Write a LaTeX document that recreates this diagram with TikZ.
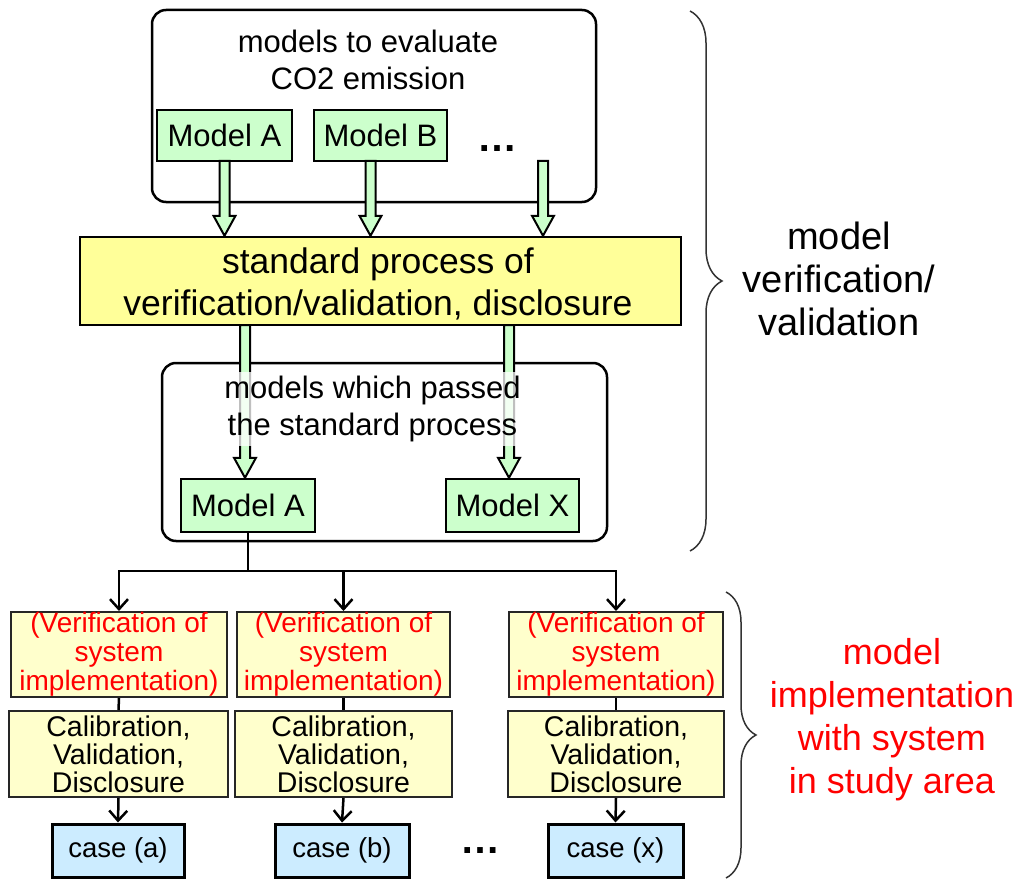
\documentclass[tikz,border=0pt]{standalone}
\usepackage{fontspec}
\setmainfont{Liberation Sans}
\usetikzlibrary{arrows.meta,calc,decorations.pathreplacing}
\definecolor{mgreen}{HTML}{CCFFCC}
\definecolor{myel}{HTML}{FFFF99}
\definecolor{lyel}{HTML}{FFFFCC}
\definecolor{lblue}{HTML}{CCECFF}
\definecolor{mred}{HTML}{FF0000}
\newcommand\fs[2]{\fontsize{#1}{#2}\selectfont}
\newcommand\hollowarrow[2]{%
  \draw[harrow] let \p1=(#1), \p2=(#2) in
   (\x1-5pt,\y1) -- (\x1-5pt,\y2+20pt) -- (\x1-11pt,\y2+20pt) -- (\x1,\y2)
   -- (\x1+11pt,\y2+20pt) -- (\x1+5pt,\y2+20pt) -- (\x1+5pt,\y1) -- cycle;}
\begin{document}
\begin{tikzpicture}[x=1pt,y=-1pt,
  roundbox/.style={draw,line width=2.5pt,rounded corners=14pt,inner sep=0pt},
  modelbox/.style={draw,line width=2.5pt,fill=mgreen,inner sep=0pt,font=\fs{31}{37}},
  procbox/.style={draw,line width=2.5pt,fill=myel,inner sep=0pt,align=center,font=\fs{35.5}{42}},
  verbox/.style={draw=black!85,line width=2pt,fill=lyel,inner sep=0pt,align=center,text=mred,font=\fs{28}{29}},
  calbox/.style={draw=black!85,line width=2pt,fill=lyel,inner sep=0pt,align=center,font=\fs{28.5}{28}},
  casebox/.style={draw,line width=3pt,fill=lblue,inner sep=0pt,font=\fs{27.5}{30}},
  harrow/.style={draw,fill=mgreen,line width=2pt,line join=miter},
  conn/.style={line width=2.5pt},
  arr/.style={conn,-{Straight Barb[length=10pt,width=18pt,line width=2.5pt]}},
  bracestyle/.style={draw=black!80,line width=1.5pt,decorate},
  boxtext/.style={align=center,inner sep=0pt,font=\fs{31}{37}},
  dots/.style={inner sep=0pt,anchor=base,font=\bfseries\fs{40}{40}}
]
\useasboundingbox (0,0) rectangle (1020,880);
% top group
\node[roundbox,minimum width=444pt,minimum height=192pt] (top) at (374,106) {};
\node[boxtext] (toptext) at (368,60) {models to evaluate\\CO2 emission};
\node[modelbox,minimum width=135pt,minimum height=51pt] (mA) at (224.5,135.5) {Model A};
\node[modelbox,minimum width=133pt,minimum height=51pt] (mB) at (380.5,135.5) {Model B};
\node[dots] (dtop) at (497,152) {…};
\node[procbox,minimum width=601pt,minimum height=88pt] (yel) at (380.5,281) {};
\node[align=center,inner sep=0pt,font=\fs{35.5}{42}] (yeltext) at (378,284) {standard process of\\verification/validation, disclosure};
\coordinate (u1) at (224.5,161);
\coordinate (u2) at (370.5,161);
\coordinate (u3) at (543,161);
\hollowarrow{u1}{u1 |- yel.north}
\hollowarrow{u2}{u2 |- yel.north}
\hollowarrow{u3}{u3 |- yel.north}
% passed group
\node[roundbox,minimum width=445pt,minimum height=178pt] (pass) at (384.5,452) {};
\node[modelbox,minimum width=134pt,minimum height=53pt] (mA2) at (248,505.5) {Model A};
\node[modelbox,minimum width=133pt,minimum height=53pt] (mX) at (512.5,505.5) {Model X};
\coordinate (l1) at (245,325);
\coordinate (l2) at (509,325);
\hollowarrow{l1}{l1 |- mA2.north}
\hollowarrow{l2}{l2 |- mX.north}
\node[boxtext,fill=white,fill opacity=0.75,text opacity=1,inner sep=4pt] (passtext) at (372.5,409) {models which passed\\the standard process};
% braces and side labels
\coordinate (bt1) at (690,11);
\coordinate (bt2) at (690,551);
\draw[bracestyle,decoration={brace,amplitude=32pt}] (bt1) -- (bt2);
\node[align=center,inner sep=0pt,font=\fs{38}{43}] (lab1) at (839,279) {model\\verification/\\validation};
\coordinate (bb1) at (726,592);
\coordinate (bb2) at (726,878);
\draw[bracestyle,decoration={brace,amplitude=30pt}] (bb1) -- (bb2);
\node[align=center,inner sep=0pt,text=mred,font=\fs{36}{43}] (lab2) at (892,720) {model\\implementation\\with system\\in study area};
% bottom
\node[verbox,minimum width=216pt,minimum height=85pt] (r1) at (119,654.5) {(Verification of\\system\\implementation)};
\node[verbox,minimum width=213pt,minimum height=85pt] (r2) at (343.5,654.5) {(Verification of\\system\\implementation)};
\node[verbox,minimum width=214pt,minimum height=85pt] (r3) at (616,654.5) {(Verification of\\system\\implementation)};
\node[calbox,minimum width=219pt,minimum height=86pt] (c1) at (118.5,754) {Calibration,\\Validation,\\Disclosure};
\node[calbox,minimum width=217pt,minimum height=86pt] (c2) at (343.5,754) {Calibration,\\Validation,\\Disclosure};
\node[calbox,minimum width=216pt,minimum height=86pt] (c3) at (616,754) {Calibration,\\Validation,\\Disclosure};
\node[casebox,minimum width=132pt,minimum height=53pt] (k1) at (118,850.5) {case (a)};
\node[casebox,minimum width=134pt,minimum height=53pt] (k2) at (342,850.5) {case (b)};
\node[casebox,minimum width=135pt,minimum height=53pt] (k3) at (615.5,850.5) {case (x)};
\node[dots] (dbot) at (480,853) {…};
\coordinate (split) at (248,571);
\draw[conn] (mA2.south) -- (split);
\draw[arr] (split) -| (r1.north);
\draw[arr] (split) -| (r2.north);
\draw[arr] (split) -| (r3.north);
\draw[conn] (r1.south) -- (c1.north);
\draw[conn] (r2.south) -- (c2.north);
\draw[conn] (r3.south) -- (c3.north);
\draw[arr] (c1.south) -- (k1.north);
\draw[arr] (c2.south) -- (k2.north);
\draw[arr] (c3.south) -- (k3.north);
\end{tikzpicture}
\end{document}
